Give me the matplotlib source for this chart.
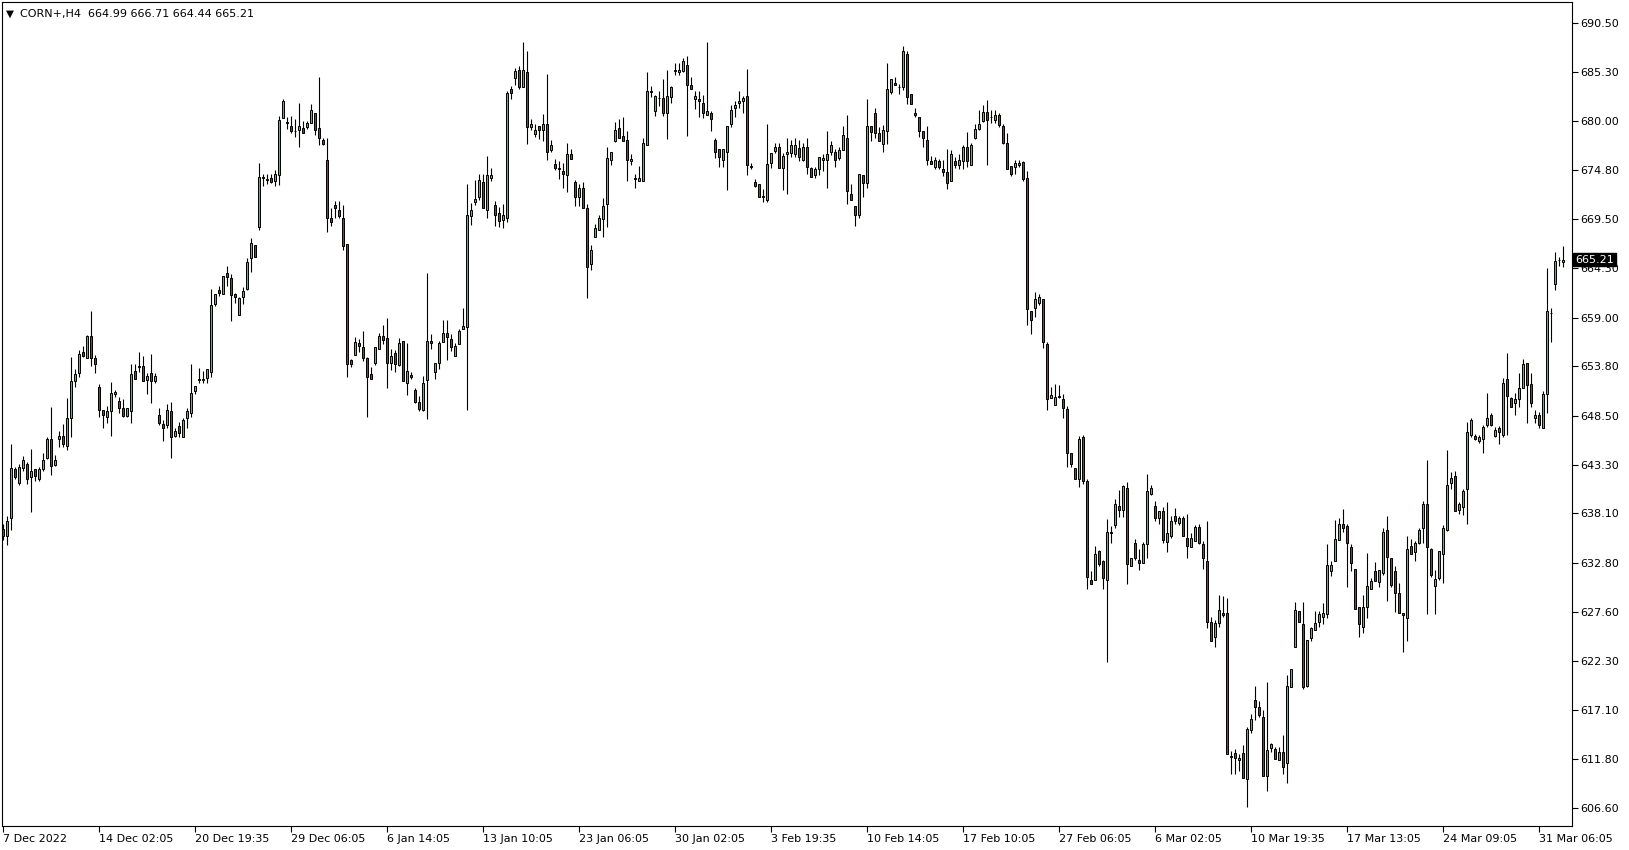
import matplotlib
matplotlib.use("Agg")
import matplotlib.pyplot as plt
from matplotlib.transforms import blended_transform_factory

# H4 candles, CORN+ (one value per bar)
opens = [636.4, 635.7, 637.6, 642.8, 641.3, 642.9, 643.4, 642.0, 642.8, 641.8, 642.8, 644.0, 646.0, 643.3, 646.0, 646.4, 645.3, 648.3, 652.2, 653.1, 655.3, 654.7, 657.0, 654.7, 651.6, 649.1, 648.4, 649.0, 650.9, 650.1, 649.4, 648.5, 649.0,
         653.3, 653.85, 653.8, 652.3, 653.1, 652.2, 648.6, 647.6, 647.5, 649.0, 646.4, 647.4, 646.3, 648.3, 648.8, 651.2, 652.3, 652.3, 652.6, 653.2, 660.5, 662.0, 661.5, 663.8, 663.2, 661.5, 659.3, 661.2, 662.1, 665.4, 666.8, 668.7, 674.0,
         673.8, 673.9, 673.6, 674.2, 680.3, 679.9, 679.5, 679.0, 679.1, 679.3, 679.4, 679.8, 680.9, 679.3, 678.0, 675.9, 669.7, 671.0, 670.5, 669.7, 666.9, 654.5, 655.0, 656.3, 655.9, 654.7, 653.0, 654.2, 655.7, 657.0, 656.8, 654.2, 655.2,
         653.9, 656.5, 652.0, 652.9, 651.3, 650.0, 649.1, 652.3, 656.5, 653.2, 654.2, 656.4, 657.4, 656.7, 654.9, 656.15, 657.8, 658.0, 669.9, 671.4, 671.9, 673.5, 670.5, 673.9, 671.0, 670.15, 669.4, 669.7, 683.4, 684.6, 685.5, 683.6, 685.2,
         679.4, 678.6, 679.5, 679.1, 679.7, 676.9, 675.4, 675.0, 674.7, 674.25, 676.5, 673.5, 671.9, 672.9, 670.7, 664.7, 667.65, 668.4, 669.5, 671.2, 675.9, 677.9, 679.3, 678.4, 678.0, 675.7, 673.9, 673.6, 673.6, 677.45, 683.2, 681.1, 682.5,
         682.5, 680.9, 682.6, 685.45, 685.2, 685.4, 686.0, 683.9, 682.4, 682.4, 681.9, 680.65, 680.9, 678.0, 677.0, 675.9, 676.7, 679.65, 681.4, 681.9, 682.1, 682.7, 675.2, 673.5, 673.3, 672.0, 671.6, 675.5, 676.8, 677.2, 674.95, 676.45, 676.6,
         676.45, 677.1, 675.9, 677.2, 674.95, 674.25, 674.85, 675.9, 675.9, 676.7, 676.7, 676.1, 676.9, 678.2, 672.2, 670.9, 670.0, 674.25, 673.35, 679.5, 680.9, 678.7, 677.6, 678.9, 683.15, 684.1, 683.7, 683.6, 687.2, 682.95, 680.9, 680.4, 678.9,
         678.0, 675.7, 675.1, 675.7, 674.9, 674.6, 673.6, 675.7, 675.3, 675.7, 677.2, 675.3, 678.2, 679.2, 680.0, 680.95, 680.45, 680.15, 680.65, 679.5, 677.7, 675.2, 675.1, 675.3, 675.6, 673.9, 659.7, 660.0, 660.6, 661.0, 656.2, 650.4, 649.7,
         650.6, 650.3, 649.2, 644.5, 642.9, 641.8, 646.2, 641.55, 631.0, 631.0, 634.1, 633.0, 631.0, 636.05, 636.8, 638.9, 638.5, 640.8, 632.5, 634.9, 633.1, 632.75, 634.8, 640.2, 638.9, 637.55, 638.35, 635.0, 635.7, 637.8, 637.1, 637.6, 635.5,
         634.5, 635.1, 636.6, 634.8, 633.0, 626.5, 624.85, 626.35, 627.5, 627.5, 612.2, 612.45, 611.7, 612.45, 609.7, 615.0, 618.1, 617.4, 616.3, 610.05, 613.0, 612.9, 611.7, 612.55, 611.4, 619.5, 623.85, 627.65, 626.3, 619.7, 624.8, 625.6, 626.5,
         627.05, 627.3, 631.95, 633.05, 635.3, 637.0, 636.75, 634.45, 632.15, 628.05, 626.0, 628.05, 630.0, 631.95, 630.8, 631.75, 636.3, 633.3, 631.95, 629.55, 627.5, 626.95, 634.65, 634.0, 634.9, 636.5, 639.1, 634.3, 630.35, 631.15, 633.7, 636.3, 641.3,
         642.1, 638.5, 638.8, 640.65, 646.45, 646.35, 645.8, 646.0, 647.55, 648.6, 646.35, 647.2, 646.45, 652.4, 650.45, 649.85, 650.3, 651.45, 654.2, 651.95, 648.25, 648.6, 647.2, 650.8, 659.5, 662.55, 665.2, 664.99]

highs = [637.0, 637.8, 645.5, 643.1, 643.4, 644.2, 643.6, 645.0, 642.8, 643.0, 644.5, 646.3, 649.5, 644.3, 646.9, 647.6, 650.4, 654.8, 653.5, 655.6, 656.0, 657.1, 659.7, 655.0, 651.9, 649.1, 649.6, 652.1, 651.3, 650.5, 650.3, 649.3, 654.1,
         654.1, 655.3, 654.9, 653.1, 655.1, 653.1, 649.3, 648.1, 649.8, 650.0, 647.2, 647.9, 648.3, 649.3, 654.1, 651.7, 653.6, 653.3, 653.5, 662.1, 661.5, 662.4, 663.5, 664.5, 663.7, 661.6, 661.2, 662.3, 665.4, 667.5, 666.8, 675.5, 674.4,
         674.3, 674.4, 674.8, 680.6, 682.4, 680.4, 680.5, 680.2, 681.9, 680.0, 680.0, 681.8, 680.9, 684.7, 678.2, 678.2, 670.7, 671.5, 671.5, 671.0, 666.9, 654.6, 656.9, 656.7, 657.6, 654.8, 653.7, 655.9, 657.4, 658.2, 659.0, 655.7, 655.6,
         656.8, 656.5, 656.3, 653.2, 651.5, 650.6, 652.8, 663.8, 657.3, 654.2, 656.5, 658.75, 658.75, 657.3, 656.3, 657.8, 660.0, 673.3, 671.3, 673.7, 674.4, 674.4, 676.3, 675.0, 671.5, 670.8, 671.2, 683.2, 683.8, 685.7, 685.9, 688.5, 687.5,
         680.2, 679.7, 679.5, 680.8, 685.0, 678.0, 676.0, 675.7, 675.5, 677.7, 677.0, 673.7, 673.3, 673.5, 671.2, 666.8, 669.0, 670.0, 671.75, 677.2, 676.7, 679.9, 680.2, 680.4, 678.9, 676.5, 674.4, 675.2, 678.2, 685.2, 683.75, 682.8, 683.2,
         684.5, 685.5, 683.75, 686.2, 686.2, 686.8, 687.0, 684.7, 683.2, 683.2, 682.8, 688.5, 681.1, 678.2, 677.0, 677.0, 679.5, 681.7, 682.1, 683.2, 682.7, 685.6, 675.5, 673.8, 673.3, 672.75, 679.7, 676.6, 677.7, 677.7, 676.6, 678.2, 678.0,
         678.2, 678.0, 677.7, 678.2, 675.1, 675.1, 676.2, 676.5, 678.9, 677.9, 677.0, 677.2, 679.5, 680.7, 673.3, 670.9, 674.4, 674.25, 682.4, 679.5, 681.4, 679.4, 679.6, 686.2, 684.5, 684.75, 684.0, 688.0, 687.5, 682.95, 681.4, 680.4, 678.9,
         679.5, 676.3, 676.2, 676.0, 675.9, 677.0, 676.9, 676.2, 676.5, 677.4, 678.8, 677.7, 679.7, 681.15, 681.7, 682.3, 681.15, 681.15, 680.85, 679.7, 678.7, 675.2, 675.9, 675.9, 675.7, 674.7, 659.7, 661.7, 661.5, 661.0, 656.4, 651.55, 651.9,
         651.8, 650.9, 649.6, 644.5, 642.9, 646.4, 646.5, 641.8, 631.9, 634.6, 634.2, 633.1, 637.45, 636.7, 639.6, 640.6, 641.1, 641.4, 633.3, 635.4, 634.25, 635.0, 642.3, 641.1, 639.4, 638.35, 638.8, 639.3, 637.8, 638.7, 637.8, 637.8, 638.0,
         636.0, 636.85, 636.95, 635.1, 637.3, 627.05, 626.7, 629.4, 629.3, 629.1, 612.7, 612.9, 612.35, 613.3, 615.3, 616.65, 619.65, 618.0, 617.1, 620.1, 613.6, 613.15, 613.15, 614.4, 620.8, 621.5, 628.65, 627.65, 628.65, 624.55, 626.0, 627.65, 627.65,
         628.5, 634.8, 633.0, 637.4, 637.55, 638.55, 637.0, 634.8, 632.15, 628.05, 629.35, 633.9, 631.15, 632.85, 632.05, 636.5, 637.8, 633.3, 632.5, 630.6, 627.5, 635.7, 635.35, 635.15, 636.5, 639.45, 643.8, 634.4, 632.05, 634.05, 636.8, 644.85, 642.55,
         642.65, 639.35, 640.75, 647.9, 648.25, 646.6, 646.45, 647.55, 651.0, 648.85, 647.35, 647.45, 652.6, 655.2, 650.55, 651.0, 653.05, 654.6, 654.2, 653.05, 649.15, 648.95, 651.2, 664.3, 660.0, 666.05, 665.5, 666.71]

lows = [635.3, 634.7, 636.3, 641.8, 641.1, 642.6, 641.2, 638.2, 641.5, 641.6, 642.6, 643.9, 642.2, 643.2, 645.2, 645.2, 644.9, 646.2, 651.6, 652.7, 654.8, 654.7, 653.8, 653.1, 648.4, 647.2, 647.7, 646.4, 650.5, 648.8, 648.4, 648.4, 647.7,
        652.4, 653.2, 652.2, 650.9, 649.9, 652.0, 647.5, 645.8, 647.2, 644.0, 646.2, 646.3, 646.3, 647.2, 648.4, 650.9, 652.0, 652.0, 652.0, 652.7, 660.2, 661.3, 661.5, 662.4, 658.6, 660.6, 659.3, 660.5, 662.0, 663.9, 665.5, 668.4, 673.1,
        673.3, 673.4, 673.1, 673.2, 680.3, 679.2, 678.7, 678.3, 677.2, 678.7, 679.2, 679.8, 678.5, 677.4, 677.4, 668.2, 668.8, 669.7, 669.7, 666.2, 652.7, 653.7, 655.0, 655.3, 654.4, 648.4, 652.5, 653.9, 655.7, 656.2, 651.5, 653.4, 653.2,
        653.8, 652.2, 650.7, 652.4, 649.9, 649.0, 649.0, 648.2, 655.7, 652.5, 653.5, 656.4, 654.5, 655.4, 654.9, 656.15, 657.8, 649.1, 668.9, 671.0, 671.6, 670.7, 669.6, 673.6, 668.8, 668.7, 668.6, 669.2, 682.4, 683.9, 683.4, 683.6, 677.6,
        679.05, 678.3, 678.1, 677.9, 675.85, 676.7, 674.8, 673.8, 672.9, 672.4, 675.95, 670.9, 670.9, 670.7, 661.1, 664.1, 667.65, 668.4, 667.65, 668.7, 675.3, 677.8, 678.2, 677.9, 673.6, 675.3, 672.9, 673.6, 673.6, 677.45, 682.6, 680.6, 681.65,
        680.55, 678.1, 681.9, 684.9, 684.9, 685.2, 678.45, 683.4, 681.3, 680.4, 680.3, 680.65, 678.9, 676.1, 675.1, 675.1, 672.6, 679.4, 680.4, 681.4, 680.9, 674.25, 674.85, 673.0, 671.9, 671.4, 671.4, 675.0, 676.6, 675.0, 672.6, 672.2, 676.2,
        676.2, 675.7, 675.7, 674.4, 674.0, 673.9, 674.25, 674.7, 672.9, 676.4, 675.1, 675.9, 676.9, 671.2, 671.6, 668.8, 669.6, 671.9, 672.9, 677.9, 678.2, 677.9, 676.7, 677.6, 682.9, 683.9, 682.9, 683.3, 681.8, 681.8, 680.4, 678.3, 677.2,
        675.3, 675.4, 674.9, 674.9, 674.15, 672.8, 673.6, 675.0, 674.9, 674.9, 675.1, 675.3, 678.1, 679.05, 679.9, 675.3, 679.85, 679.85, 679.4, 677.6, 674.9, 674.15, 674.35, 675.1, 673.6, 658.2, 657.3, 659.1, 660.4, 655.8, 649.1, 650.4, 649.7,
        650.4, 648.25, 643.0, 643.0, 641.8, 640.9, 641.2, 630.0, 630.5, 631.0, 632.5, 630.0, 622.25, 634.95, 636.55, 637.7, 637.7, 630.5, 632.5, 633.1, 632.0, 632.75, 633.3, 640.05, 637.3, 636.95, 634.95, 634.0, 635.5, 637.0, 636.8, 635.7, 633.3,
        634.5, 635.1, 634.8, 632.15, 625.8, 624.5, 623.85, 626.0, 627.0, 612.35, 610.25, 610.25, 610.6, 609.8, 606.75, 614.6, 616.0, 616.3, 610.0, 608.45, 612.55, 611.8, 611.7, 610.25, 609.3, 619.5, 623.85, 626.5, 619.3, 619.5, 624.5, 625.6, 625.9,
        626.25, 626.95, 631.45, 633.05, 635.3, 636.1, 630.25, 631.95, 627.85, 624.9, 625.3, 626.95, 630.0, 630.85, 630.25, 631.5, 628.7, 630.25, 627.6, 627.5, 623.25, 624.45, 633.7, 633.05, 634.8, 634.95, 627.3, 631.3, 627.3, 631.0, 630.7, 636.25, 640.75,
        638.3, 638.0, 637.9, 637.0, 646.3, 645.95, 645.6, 644.5, 647.35, 647.45, 646.3, 645.5, 646.3, 646.45, 649.45, 648.6, 649.45, 651.45, 647.7, 649.45, 647.8, 647.2, 647.2, 648.8, 656.45, 661.95, 664.5, 664.44]

closes = [635.7, 637.3, 642.9, 642.0, 643.1, 643.8, 641.8, 642.6, 642.1, 642.8, 643.8, 646.0, 643.2, 643.8, 646.4, 645.5, 648.3, 652.2, 653.0, 655.1, 654.9, 657.0, 654.7, 654.1, 649.1, 648.6, 649.0, 651.0, 651.1, 649.4, 648.5, 649.3, 653.0,
          652.4, 653.75, 652.2, 652.8, 652.2, 652.8, 647.8, 647.2, 649.1, 646.2, 646.9, 646.7, 648.1, 649.0, 651.0, 651.7, 652.4, 652.5, 653.5, 660.4, 661.5, 661.6, 663.5, 663.4, 661.4, 661.2, 661.1, 661.9, 665.0, 667.0, 665.5, 674.0, 673.9,
          673.7, 673.5, 674.4, 680.1, 682.2, 679.8, 679.0, 678.95, 679.5, 678.7, 679.8, 681.2, 679.1, 678.2, 677.6, 669.7, 669.2, 670.7, 669.9, 666.7, 654.0, 654.0, 656.4, 656.0, 654.7, 652.7, 652.5, 655.9, 657.0, 656.6, 654.2, 654.9, 654.0,
          656.3, 652.2, 653.3, 652.7, 649.95, 649.2, 652.0, 656.5, 656.3, 654.2, 656.3, 657.4, 656.9, 655.9, 656.0, 657.6, 658.15, 670.0, 670.5, 671.7, 673.7, 670.7, 674.2, 674.2, 670.0, 669.3, 670.0, 683.0, 683.0, 685.35, 683.7, 685.5, 679.4,
          679.7, 679.1, 679.1, 679.7, 676.7, 677.45, 674.95, 674.9, 674.4, 676.5, 675.95, 671.9, 672.9, 670.7, 664.4, 666.2, 668.6, 669.7, 670.9, 676.1, 676.7, 679.1, 678.2, 677.9, 675.9, 675.95, 673.85, 673.95, 677.7, 683.2, 683.15, 682.7, 682.45,
          680.9, 682.7, 683.7, 685.4, 685.5, 686.4, 683.9, 683.4, 682.7, 682.1, 680.9, 681.1, 680.2, 676.7, 676.2, 677.0, 679.5, 681.2, 681.7, 682.15, 682.5, 675.3, 675.1, 673.1, 671.9, 671.9, 675.4, 676.6, 677.2, 675.0, 676.3, 676.7, 677.4,
          677.45, 676.2, 677.2, 675.1, 674.0, 674.85, 676.2, 676.1, 676.45, 677.45, 675.9, 676.9, 678.5, 672.5, 671.6, 670.0, 674.4, 673.4, 679.5, 678.8, 678.7, 677.9, 679.1, 683.4, 684.5, 683.9, 683.6, 687.5, 682.6, 681.8, 680.65, 678.9, 678.2,
          675.9, 675.4, 675.9, 675.1, 674.55, 673.4, 676.5, 675.3, 675.9, 677.2, 675.7, 677.4, 679.2, 679.65, 680.95, 680.15, 680.4, 680.65, 679.6, 677.7, 674.9, 674.35, 675.5, 675.55, 673.8, 659.9, 658.7, 661.0, 661.2, 656.4, 650.3, 650.7, 650.5,
          650.5, 649.4, 644.5, 643.4, 641.8, 646.0, 641.55, 631.25, 630.5, 633.8, 632.65, 631.2, 636.05, 635.95, 639.05, 638.5, 641.0, 632.65, 633.3, 633.35, 632.75, 634.8, 640.5, 640.8, 637.55, 638.35, 635.3, 635.95, 637.3, 637.3, 637.6, 635.7, 634.6,
          635.5, 636.6, 634.95, 633.3, 626.5, 624.5, 626.35, 627.8, 627.2, 612.35, 612.1, 612.0, 612.0, 609.8, 615.1, 616.1, 617.4, 616.5, 610.0, 612.8, 613.5, 611.9, 612.55, 611.0, 619.65, 621.5, 627.8, 626.5, 619.5, 624.55, 625.8, 626.35, 627.3,
          627.5, 632.6, 632.6, 635.35, 637.0, 636.5, 634.9, 632.75, 627.85, 626.25, 628.05, 630.35, 630.85, 630.85, 632.05, 636.05, 633.45, 630.45, 629.6, 627.5, 627.2, 634.3, 633.8, 634.9, 636.3, 639.1, 634.55, 631.5, 631.05, 634.05, 636.5, 641.1, 641.9,
          638.3, 639.1, 640.5, 646.75, 648.05, 646.0, 646.2, 647.3, 648.25, 647.55, 647.05, 646.75, 652.0, 650.65, 649.5, 650.3, 651.45, 654.0, 651.8, 649.9, 648.6, 647.55, 650.8, 659.7, 659.45, 665.05, 665.15, 665.21]

# right price scale and bottom time scale
price_ticks = [690.50, 685.30, 680.00, 674.80, 669.50, 664.30, 659.00, 653.80, 648.50,
               643.30, 638.10, 632.80, 627.60, 622.30, 617.10, 611.80, 606.60]
date_labels = ["7 Dec 2022", "14 Dec 02:05", "20 Dec 19:35", "29 Dec 06:05", "6 Jan 14:05",
               "13 Jan 10:05", "23 Jan 06:05", "30 Jan 02:05", "3 Feb 19:35", "10 Feb 14:05",
               "17 Feb 10:05", "27 Feb 06:05", "6 Mar 02:05", "10 Mar 19:35", "17 Mar 13:05",
               "24 Mar 09:05", "31 Mar 06:05"]
date_label_bars = [24 * k for k in range(len(date_labels))]

W, H = 1629, 850
fig = plt.figure(figsize=(W / 100, H / 100), dpi=100)
fig.patch.set_facecolor("white")
# plot box in pixels: x 2..1572, y 2..826
ax = fig.add_axes([2 / W, (H - 826) / H, 1570 / W, 824 / H])
ax.set_facecolor("white")

n = len(closes)
xs = list(range(n))
bull_fill = "#10f010"
bear_fill = "#f01010"

# wicks
ax.vlines(xs, lows, highs, colors="black", linewidth=0.8, zorder=2)
# bodies
for i in xs:
    o, c = opens[i], closes[i]
    fill = bull_fill if c >= o else bear_fill
    lo = min(o, c)
    hgt = abs(c - o)
    ax.bar(i, hgt, bottom=lo, width=0.5, color=fill, edgecolor="black",
           linewidth=0.7, zorder=3)

ax.set_xlim(-0.325, 392.175)
ax.set_ylim(604.69, 692.73)

for s in ax.spines.values():
    s.set_color("black")
    s.set_linewidth(0.8)

# price scale on the right
ax.yaxis.tick_right()
ax.set_yticks(price_ticks)
ax.set_yticklabels(["%.2f" % p for p in price_ticks])
ax.tick_params(axis="y", direction="out", length=4, width=0.8, pad=2,
               labelsize=8, colors="black")

# time scale
ax.set_xticks(date_label_bars)
ax.set_xticklabels(date_labels, ha="left")
ax.tick_params(axis="x", direction="out", length=4, width=0.8, pad=2,
               labelsize=8, colors="black")

# header
ax.text(4 / 1570, 1 - 12 / 824, "\u25bc", transform=ax.transAxes, fontsize=7.5,
        va="center", ha="left", color="black")
ax.text(18 / 1570, 1 - 12 / 824, "CORN+,H4  %.2f %.2f %.2f %.2f"
        % (opens[-1], highs[-1], lows[-1], closes[-1]),
        transform=ax.transAxes, fontsize=8, va="center", ha="left", color="black")

# last price marker
trans = blended_transform_factory(ax.transAxes, ax.transData)
ax.text(1.002, closes[-1], "%.2f" % closes[-1], transform=trans, fontsize=8,
        va="center", ha="left", color="white", clip_on=False, zorder=10,
        bbox=dict(boxstyle="square,pad=0.15", facecolor="black", edgecolor="black"))

fig.savefig("out.png", dpi=100)
